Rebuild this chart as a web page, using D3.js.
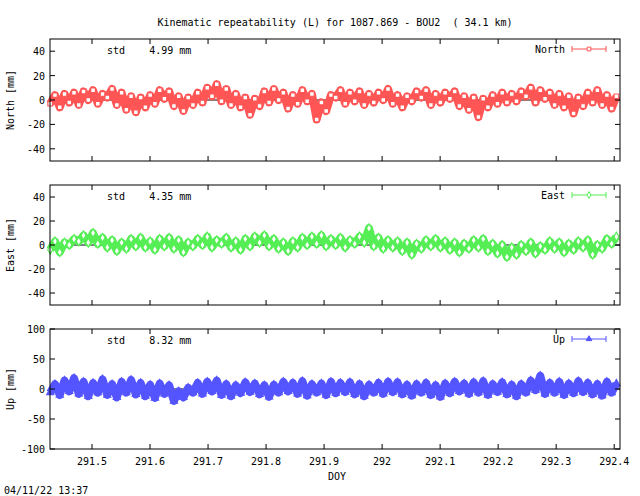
<!DOCTYPE html>
<html><head><meta charset="utf-8">
<script src="https://cdn.jsdelivr.net/npm/d3@7"></script>
<style>body{margin:0;background:#fff}text{font-family:"DejaVu Sans Mono",monospace;font-size:10px;fill:#000}</style>
</head><body><svg id="c" width="640" height="496"></svg>
<script>
// regular epochs (DOY)
const doyStart = 291.428, doyStep = 0.0082;
const xTicks = [291.5, 291.6, 291.7, 291.8, 291.9, 292, 292.1, 292.2, 292.3, 292.4];

const north = [-3,4,-6,5,-2,6,-4,7,0,8,-3,5, 2,9,-4,6,-8,3,-10,2,-6,4,-3,8,
  1,7,-5,3,-9,2,-4,6,-2,10,3,13, -1,9,-4,5,-6,2,-12,1,-5,7,-2,9,
  0,6,-7,4,-3,8,-1,5,-16,-2,-9,4, 2,8,-3,6,-1,7,-4,5,-2,6,0,9,
  -3,4,-6,3,-1,7,2,8,-4,5,-2,6, 1,7,-5,3,-8,2,-14,1,-6,4,-3,6,
  -2,5,-1,7,3,10,-2,8,1,6,-4,5, -6,3,-11,2,-5,6,-2,8,-4,4,-7,3];
const east = [-4,3,-6,2,0,5,3,8,2,10,1,6, -2,4,-5,2,-3,5,-1,6,-2,3,-4,5,
  -1,6,-3,4,-6,2,-1,5,0,7,-2,4, 1,6,-2,3,-4,5,-1,7,2,8,-1,5,
  -3,2,-5,3,-2,6,0,7,1,8,-1,5, 0,6,-2,4,1,7,2,14,-1,6,-3,4,
  -2,3,-5,2,-8,1,-3,4,-1,5,-2,3, -4,2,-6,1,-3,4,-2,5,-5,1,-7,0,
  -10,-2,-8,0,-5,2,-7,-1,-4,3,-3,2, -6,1,-4,3,-2,4,-8,0,-3,5,1,7];
const up = [-6,8,-10,14,-4,18,-8,12,-12,10,-6,16, -10,8,-14,12,-6,15,-9,10,-12,7,-15,9,
  -8,6,-20,-4,-14,2,-6,10,-8,12,-4,14, -10,8,-12,6,-7,11,-5,9,-9,6,-13,7,
  -6,12,-4,10,-8,13,-11,8,-6,9,-10,12, -7,10,-5,11,-9,8,-12,7,-6,10,-8,12,
  -5,11,-9,7,-11,8,-6,10,-10,6,-13,9, -7,12,-4,9,-8,11,-6,13,-10,8,-5,11,
  -9,7,-12,8,-6,14,-2,22,-8,10,-6,12, -10,9,-7,13,-5,10,-9,8,-11,12,-6,9];

const svg = d3.select("#c");
const x = d3.scaleLinear().domain([doyStart - 0.0004, 292.41]).range([50, 620]);

const panels = [
  {name: "North", data: north, top: 39, bot: 161, dom: [-50, 50], ticks: [-40,-20,0,20,40], std: "4.99", color: "#ff5555", sym: "square", xl: false},
  {name: "East", data: east, top: 185, bot: 305, dom: [-50, 50], ticks: [-40,-20,0,20,40], std: "4.35", color: "#55ee55", sym: "diamond", xl: false},
  {name: "Up", data: up, top: 329, bot: 449, dom: [-100, 100], ticks: [-100,-50,0,50,100], std: "8.32", color: "#5555ff", sym: "triangle", xl: true}
];

panels.forEach(p => {
  const y = d3.scaleLinear().domain(p.dom).range([p.bot, p.top]);
  const g = svg.append("g");
  const pts = p.data.map((v, i) => [doyStart + i * doyStep, v]);
  const symType = p.sym === "square" ? d3.symbolSquare : p.sym === "diamond" ? d3.symbolDiamond : d3.symbolTriangle;
  const big = d3.symbol().type(symType).size(22);
  // zero line
  g.append("line").attr("x1", 50).attr("x2", 620).attr("y1", y(0)).attr("y2", y(0)).attr("stroke", "#000");
  // the dense band of epochs
  g.append("path").datum(pts).attr("fill", "none").attr("stroke", p.color).attr("stroke-width", 8)
    .attr("stroke-linejoin", "round")
    .attr("d", d3.line().x(d => x(d[0])).y(d => y(d[1])));
  g.selectAll(".m").data(pts).join("path")
    .attr("transform", d => `translate(${x(d[0])},${y(d[1])})`)
    .attr("d", big).attr("fill", p.sym === "triangle" ? p.color : "#fff").attr("stroke", p.color).attr("stroke-width", 1.2);
  // frame
  g.append("rect").attr("x", 50).attr("y", p.top).attr("width", 570).attr("height", p.bot - p.top)
    .attr("fill", "none").attr("stroke", "#000");
  p.ticks.forEach(t => {
    g.append("line").attr("x1", 50).attr("x2", 55).attr("y1", y(t)).attr("y2", y(t)).attr("stroke", "#000");
    g.append("line").attr("x1", 615).attr("x2", 620).attr("y1", y(t)).attr("y2", y(t)).attr("stroke", "#000");
    g.append("text").attr("x", 45).attr("y", y(t) + 4).attr("text-anchor", "end").text(t);
  });
  xTicks.forEach(t => {
    g.append("line").attr("x1", x(t)).attr("x2", x(t)).attr("y1", p.bot).attr("y2", p.bot - 5).attr("stroke", "#000");
    g.append("line").attr("x1", x(t)).attr("x2", x(t)).attr("y1", p.top).attr("y2", p.top + 5).attr("stroke", "#000");
    if (p.xl) g.append("text").attr("x", x(t)).attr("y", p.bot + 16).attr("text-anchor", "middle").text(t);
  });
  g.append("text").attr("transform", `translate(14,${(p.top + p.bot) / 2}) rotate(-90)`)
    .attr("text-anchor", "middle").text(p.name + " [mm]");
  g.append("text").attr("x", 107).attr("y", p.top + 15).attr("xml:space", "preserve").text("std    " + p.std + " mm");
  // legend
  g.append("text").attr("x", 565).attr("y", p.top + 14).attr("text-anchor", "end").text(p.name);
  const ly = p.top + 10;
  const small = d3.symbol().type(symType).size(14);
  g.append("line").attr("x1", 572).attr("x2", 606).attr("y1", ly).attr("y2", ly).attr("stroke", p.color);
  [572, 606].forEach(xx => g.append("line").attr("x1", xx).attr("x2", xx).attr("y1", ly - 3).attr("y2", ly + 3).attr("stroke", p.color));
  g.append("path").attr("transform", `translate(589,${ly})`).attr("d", small)
    .attr("fill", p.sym === "triangle" ? p.color : "#fff").attr("stroke", p.color);
});

svg.append("text").attr("x", 335).attr("y", 26).attr("text-anchor", "middle").attr("xml:space", "preserve")
  .text("Kinematic repeatability (L) for 1087.869 - BOU2  ( 34.1 km)");
svg.append("text").attr("x", 337).attr("y", 480).attr("text-anchor", "middle").text("DOY");
svg.append("text").attr("x", 4).attr("y", 494).text("04/11/22 13:37");
</script></body></html>
